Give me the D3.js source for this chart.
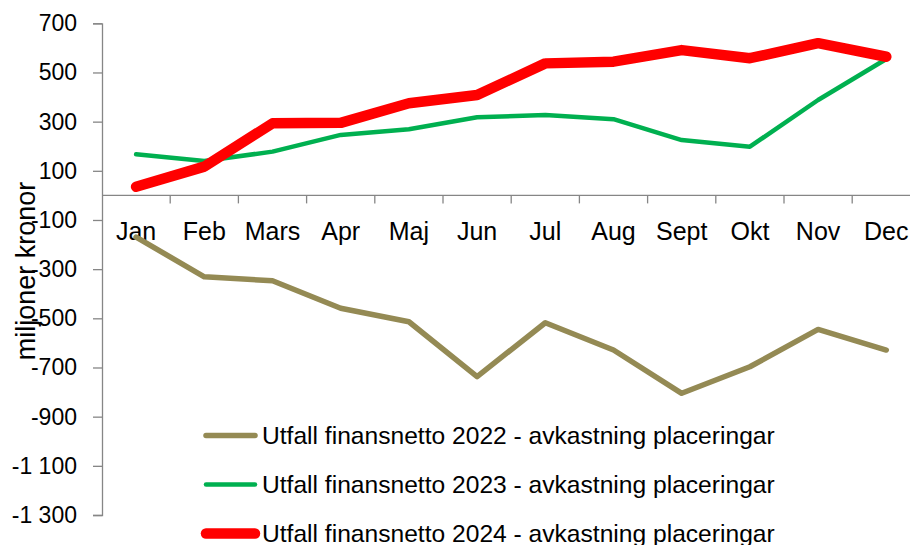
<!DOCTYPE html>
<html>
<head>
<meta charset="utf-8">
<script src="https://cdn.jsdelivr.net/npm/d3@7"></script>
<style>
  body { margin: 0; background: #fff; }
  svg { display: block; }
  .txt { font-family: "Liberation Sans Narrow", "Liberation Sans", Arial, sans-serif; fill: #000; }
  .num { font-family: "Liberation Sans", Arial, sans-serif; fill: #000; }
</style>
</head>
<body>
<div id="chart"></div>
<script>
// Data (miljoner kronor)
const months = ["Jan", "Feb", "Mars", "Apr", "Maj", "Jun", "Jul", "Aug", "Sept", "Okt", "Nov", "Dec"];
const utfall2022 = [-170, -331, -347, -459, -514, -737, -518, -629, -805, -697, -545, -629];
const utfall2023 = [167, 140, 178, 246, 269, 318, 327, 310, 225, 198, 388, 555];
const utfall2024 = [35, 117, 293, 295, 375, 408, 537, 544, 591, 558, 619, 564];
const yTicks = [-1300, -1100, -900, -700, -500, -300, -100, 100, 300, 500, 700];
const seriesNames = [
  "Utfall finansnetto 2022 - avkastning placeringar",
  "Utfall finansnetto 2023 - avkastning placeringar",
  "Utfall finansnetto 2024 - avkastning placeringar"
];

const series = [
  { name: seriesNames[0], values: utfall2022, color: "#948A54", width: 5.5 },
  { name: seriesNames[1], values: utfall2023, color: "#00B050", width: 4.5 },
  { name: seriesNames[2], values: utfall2024, color: "#FF0000", width: 10.5 }
];

const W = 910, H = 545;
const plotLeft = 102, plotRight = 920.4, plotTop = 23.3, plotBottom = 515;

const svg = d3.select("#chart").append("svg")
  .attr("width", W)
  .attr("height", H);

const x = d3.scaleBand()
  .domain(months)
  .range([plotLeft, plotRight]);

const y = d3.scaleLinear()
  .domain([-1300, 700])
  .range([plotBottom, plotTop]);

const axisColor = "#868686";
const fmt = v => d3.format(",")(v).replace(",", " ").replace("−", "-");

// Y axis
const yAxis = svg.append("g")
  .attr("transform", `translate(${plotLeft},0)`)
  .call(d3.axisLeft(y).tickValues(yTicks).tickSize(9).tickPadding(16).tickFormat(fmt));
yAxis.select(".domain").attr("stroke", axisColor).attr("stroke-width", 1.3);
yAxis.selectAll(".tick line").attr("stroke", axisColor).attr("stroke-width", 1.3);
yAxis.selectAll(".tick text")
  .attr("class", "num")
  .style("font-size", "23px");

// X axis at zero
const y0 = y(0);
svg.append("line")
  .attr("x1", plotLeft).attr("x2", plotRight)
  .attr("y1", y0).attr("y2", y0)
  .attr("stroke", axisColor).attr("stroke-width", 1.3);

svg.selectAll(".xtick")
  .data(months.slice(1))
  .enter().append("line")
  .attr("class", "xtick")
  .attr("x1", d => x(d)).attr("x2", d => x(d))
  .attr("y1", y0).attr("y2", y0 + 8)
  .attr("stroke", axisColor).attr("stroke-width", 1.3);

svg.selectAll(".xlabel")
  .data(months)
  .enter().append("text")
  .attr("class", "xlabel txt")
  .attr("x", d => x(d) + x.bandwidth() / 2)
  .attr("y", 240)
  .attr("text-anchor", "middle")
  .style("font-size", "25px")
  .text(d => d);

// Y axis title
svg.append("text")
  .attr("class", "txt")
  .attr("transform", "translate(35,271) rotate(-90)")
  .attr("text-anchor", "middle")
  .style("font-size", "27px")
  .text("miljoner kronor");

// Lines
const line = d3.line()
  .x((d, i) => x(months[i]) + x.bandwidth() / 2)
  .y(d => y(d));

svg.selectAll(".series")
  .data(series)
  .enter().append("path")
  .attr("class", "series")
  .attr("d", d => line(d.values))
  .attr("fill", "none")
  .attr("stroke", d => d.color)
  .attr("stroke-width", d => d.width)
  .attr("stroke-linecap", "round")
  .attr("stroke-linejoin", "round");

// Legend
const legend = svg.selectAll(".legend")
  .data(series)
  .enter().append("g")
  .attr("class", "legend")
  .attr("transform", (d, i) => `translate(0,${435.5 + i * 49})`);

legend.append("line")
  .attr("x1", 206).attr("x2", 255)
  .attr("y1", 0).attr("y2", 0)
  .attr("stroke", d => d.color)
  .attr("stroke-width", d => d.width)
  .attr("stroke-linecap", "round");

legend.append("text")
  .attr("class", "txt")
  .attr("x", 262)
  .attr("y", 8)
  .style("font-size", "24.6px")
  .text(d => d.name);
</script>
</body>
</html>
